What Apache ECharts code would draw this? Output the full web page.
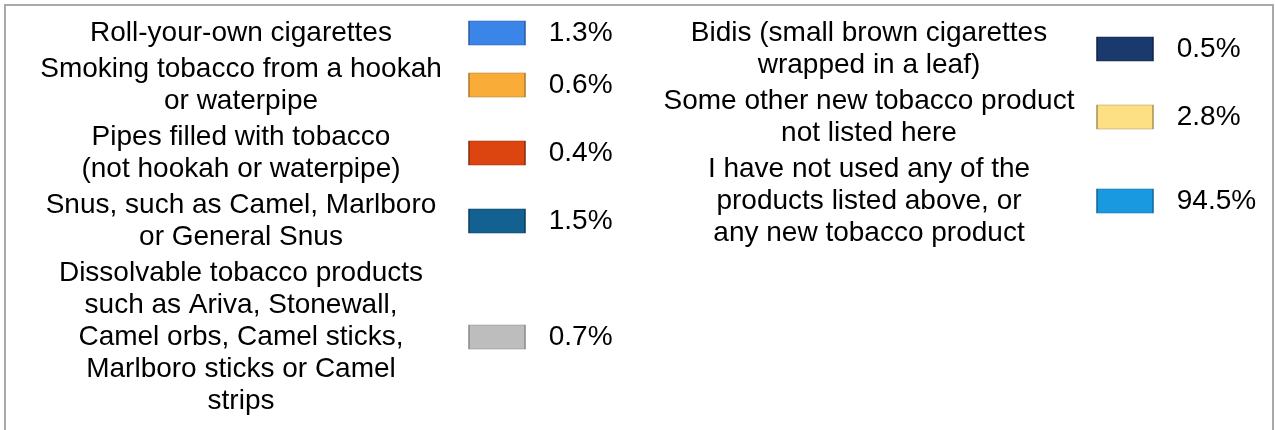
<!DOCTYPE html>
<html><head><meta charset="utf-8">
<script src="https://cdn.jsdelivr.net/npm/echarts@6/dist/echarts.min.js"></script>
<style>html,body{margin:0;padding:0;background:#fff}#c{width:1275px;height:430px}</style>
</head><body><div id="c"></div>
<script>
// ---- data ----
const leftNames = [
  'Roll-your-own cigarettes',
  'Smoking tobacco from a hookah\nor waterpipe',
  'Pipes filled with tobacco\n(not hookah or waterpipe)',
  'Snus, such as Camel, Marlboro\nor General Snus',
  'Dissolvable tobacco products\nsuch as Ariva, Stonewall,\nCamel orbs, Camel sticks,\nMarlboro sticks or Camel\nstrips'
];
const leftValues = [1.3, 0.6, 0.4, 1.5, 0.7];
const leftColors = ['#3b85e8', '#f9ac38', '#dc4410', '#136191', '#bdbdbd'];
const leftBorders = ['#2b5ea6', '#b07a2a', '#8c2c0f', '#0c3e5e', '#8a8a8a'];

const rightNames = [
  'Bidis (small brown cigarettes\nwrapped in a leaf)',
  'Some other new tobacco product\nnot listed here',
  'I have not used any of the\nproducts listed above, or\nany new tobacco product'
];
const rightValues = [0.5, 2.8, 94.5];
const rightColors = ['#1a396c', '#fddf84', '#199ae0'];
const rightBorders = ['#10244a', '#a8925a', '#10689a'];

// ---- layout from line counts ----
const LINE = 32, GAP = 4, TOP = 17;
function build(names, values, colors, borders, col) {
  let y = TOP;
  return names.map((n, i) => {
    const k = n.split('\n').length;
    const c = y + k * LINE / 2;
    y += k * LINE + GAP;
    return { value: [col, c], name: n, pct: values[i],
      itemStyle: { color: colors[i], borderColor: borders[i], borderWidth: 1, opacity: 1 } };
  });
}
const items = build(leftNames, leftValues, leftColors, leftBorders, 0)
  .concat(build(rightNames, rightValues, rightColors, rightBorders, 1));

const FONT = "'Liberation Sans', Arial, sans-serif";
const chart = echarts.init(document.getElementById('c'), null, { renderer: 'canvas' });
chart.setOption({
  animation: false,
  backgroundColor: '#ffffff',
  graphic: [{
    type: 'rect', silent: true,
    shape: { x: 5, y: 5, width: 1268, height: 440 },
    style: { fill: 'none', stroke: '#a9a9a9', lineWidth: 2 }
  }],
  grid: { left: 497, right: 150, top: 0, bottom: 0 },
  xAxis: { type: 'value', min: 0, max: 1, show: false },
  yAxis: { type: 'value', min: 0, max: 430, inverse: true, show: false },
  series: [
    {
      type: 'scatter', silent: true,
      symbol: 'rect', symbolSize: [56, 24],
      data: items.map(d => ({ value: d.value, name: d.name })),
      itemStyle: { color: 'rgba(0,0,0,0)', opacity: 1 },
      label: {
        show: true, position: 'left', distance: 228, align: 'center',
        formatter: p => p.name,
        fontSize: 28, lineHeight: 32, color: '#000000', fontFamily: FONT
      },
      emphasis: { disabled: true }
    },
    {
      type: 'scatter', silent: true,
      symbol: 'rect', symbolSize: [56, 24],
      data: items.map(d => ({ value: d.value, name: d.name, pct: d.pct, itemStyle: d.itemStyle })),
      itemStyle: { opacity: 1 },
      label: {
        show: true, position: 'right', distance: 23, align: 'left',
        formatter: p => p.data.pct.toFixed(1) + '%',
        fontSize: 28, color: '#000000', fontFamily: FONT
      },
      emphasis: { disabled: true }
    }
  ]
});
</script>
</body></html>
